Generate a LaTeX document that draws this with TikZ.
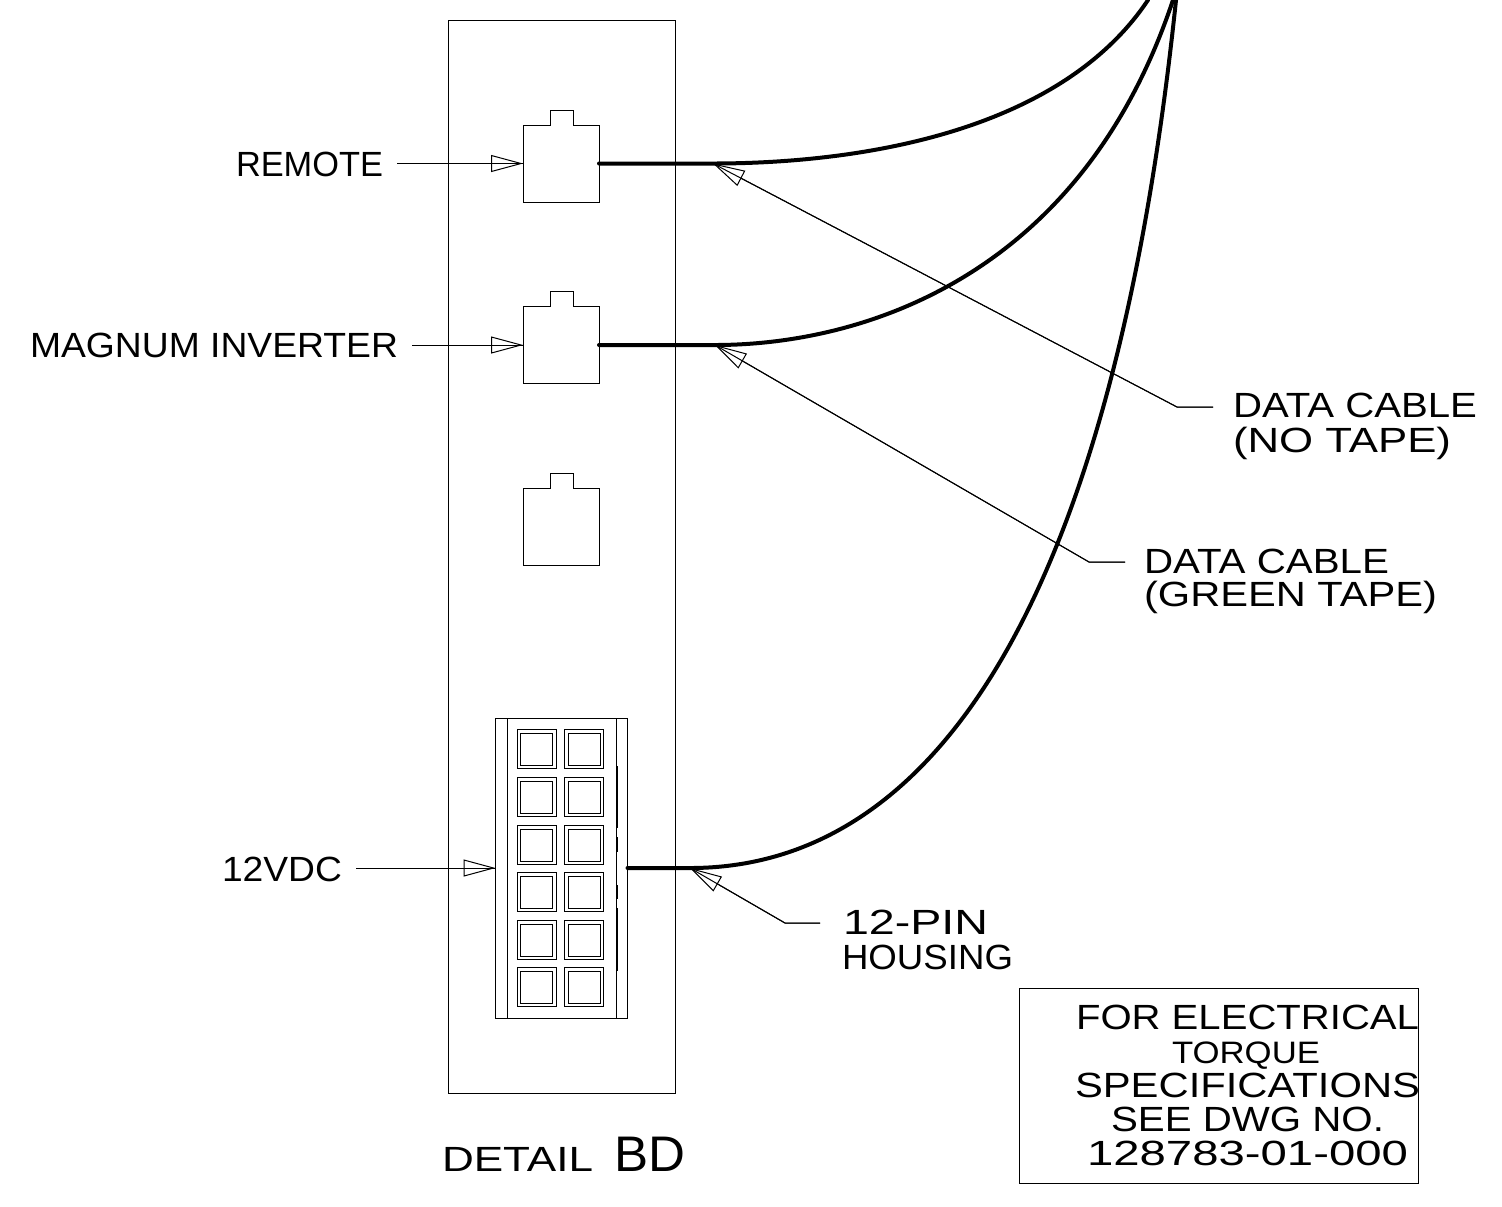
\documentclass[tikz,border=0pt]{standalone}
\usepackage{fontspec}
\setmainfont{Liberation Sans}
\usetikzlibrary{arrows.meta}
\newcommand{\fitw}[2]{\resizebox{#1pt}{\height}{#2}}
\newcommand{\leadline}[1]{\draw[leader] #1; \draw[base] #1;}
\tikzset{
  base/.style={line width=0.5pt,black},
  frame/.style={base,draw,inner sep=0pt,outer sep=0pt},
  lbl/.style={inner sep=0pt,outer sep=0pt,anchor=base west,font=\fontsize{17.5}{20}\selectfont},
  smalllbl/.style={inner sep=0pt,outer sep=0pt,anchor=base west,font=\fontsize{15.5}{18}\selectfont},
  cable/.style={line width=2pt,black,line cap=round},
  leader/.style={base,-{Triangle[fill=none,length=16pt,width=8.5pt,line width=0.5pt]}},
  portbox/.style={inner sep=0pt,outer sep=0pt,minimum width=38pt,minimum height=38.5pt},
  pinouter/.style={frame,minimum width=19.5pt,minimum height=19.5pt},
  pininner/.style={frame,minimum width=16pt,minimum height=16pt},
}
\newcommand{\portshape}[1]{%
  \draw[base] (#1.north west) -- ([xshift=13.5pt]#1.north west) -- ++(0,7.5pt) -- ++(11.5pt,0) -- ++(0,-7.5pt) -- (#1.north east) -- (#1.south east) -- (#1.south west) -- cycle;}
\begin{document}
\begin{tikzpicture}[x=0.5pt,y=-0.5pt]
\useasboundingbox (0,0) rectangle (1502,1206);
% panel
\node[frame,minimum width=113.5pt,minimum height=536.5pt] (panel) at (561.5,556.5) {};
% ports
\node[portbox] (p1) at (561,163.5) {}; \portshape{p1}
\node[portbox] (p2) at (561,345) {}; \portshape{p2}
\node[portbox] (p3) at (561,527) {}; \portshape{p3}
% housing
\node[frame,minimum width=66pt,minimum height=150pt] (hs) at (561.5,868) {};
\draw[base] ([xshift=6pt]hs.north west) -- ([xshift=6pt]hs.south west);
\draw[base] ([xshift=-5.5pt]hs.north east) -- ([xshift=-5.5pt]hs.south east);
\draw[line width=1pt] ([xshift=-5.5pt,yshift=-24pt]hs.north east) -- ([xshift=-5.5pt,yshift=-55pt]hs.north east)
  ([xshift=-5.5pt,yshift=-59.5pt]hs.north east) -- ([xshift=-5.5pt,yshift=-67pt]hs.north east)
  ([xshift=-5.5pt,yshift=-83.5pt]hs.north east) -- ([xshift=-5.5pt,yshift=-90.5pt]hs.north east)
  ([xshift=-5.5pt,yshift=-95pt]hs.north east) -- ([xshift=-5.5pt,yshift=-126.5pt]hs.north east);
\foreach \r/\yy in {1/749,2/797,3/845,4/892,5/940,6/987}{
  \foreach \c/\xx in {1/536.5,2/584}{
    \node[pinouter] (po\r\c) at (\xx,\yy) {};
    \node[pininner] (pi\r\c) at (\xx,\yy) {};
  }
}
% cables
\coordinate (c1a) at (713,163.5);
\coordinate (c2a) at (715,345);
\coordinate (c3a) at (690,868);
\coordinate (c1b) at (1148,0);
\coordinate (c2b) at (1173,0);
\coordinate (c3b) at (1176,0);
\draw[cable] (p1.east) -- (c1a) .. controls (860,163.5) and (1060,132) .. (c1b);
\draw[cable] (p2.east) -- (c2a) .. controls (860,345) and (1080,279) .. (c2b);
\draw[cable] (hs.east) -- (c3a) .. controls (850,868) and (1097,755) .. (c3b);
% labels
\node[lbl] (remote) at (236,176) {\fitw{73.5}{REMOTE}};
\node[lbl] (magnum) at (30,357) {\fitw{184}{MAGNUM INVERTER}};
\node[lbl] (vdc) at (222,881) {\fitw{60}{12VDC}};
\node[lbl] (dc1) at (1233,417.5) {\fitw{122}{DATA CABLE}};
\node[lbl] (dc1b) at (1233,452) {\fitw{109}{(NO TAPE)}};
\node[lbl] (dc2) at (1144,573) {\fitw{122.5}{DATA CABLE}};
\node[lbl] (dc2b) at (1144,606.5) {\fitw{146.5}{(GREEN TAPE)}};
\node[lbl] (pin) at (843,934) {\fitw{72.5}{12-PIN}};
\node[lbl] (hous) at (842,969) {\fitw{85.5}{HOUSING}};
% leaders
\coordinate (s1) at (397,163.5);
\coordinate (s2) at (412,345);
\coordinate (s3) at (356,868);
\leadline{(s1) -- (p1.west)}
\leadline{(s2) -- (p2.west)}
\leadline{(s3) -- (hs.west)}
\coordinate (k1) at (1177,407);
\coordinate (e1) at (1213,407);
\coordinate (k2) at (1089,562);
\coordinate (e2) at (1125,562);
\coordinate (k3) at (785,923);
\coordinate (e3) at (820,923);
\leadline{(e1) -- (k1) -- (c1a)}
\leadline{(e2) -- (k2) -- (c2a)}
\leadline{(e3) -- (k3) -- (c3a)}
% note box
\node[frame,minimum width=199.5pt,minimum height=97.5pt] (note) at (1218.5,1085.5) {};
\node[lbl] (n1) at (1076,1029) {\fitw{171.5}{FOR ELECTRICAL}};
\node[smalllbl] (n2) at (1172,1063) {\fitw{74}{TORQUE}};
\node[lbl] (n3) at (1075,1097) {\fitw{172.5}{SPECIFICATIONS}};
\node[lbl] (n4) at (1111,1131) {\fitw{136.5}{SEE DWG NO.}};
\node[lbl] (n5) at (1087,1165) {\fitw{160.5}{128783-01-000}};
% title
\node[lbl] (t1) at (442,1171) {\fitw{75.5}{DETAIL}};
\node[lbl,font=\fontsize{25}{26}\selectfont] (t2) at (614,1171) {\fitw{35.5}{BD}};
\end{tikzpicture}
\end{document}
